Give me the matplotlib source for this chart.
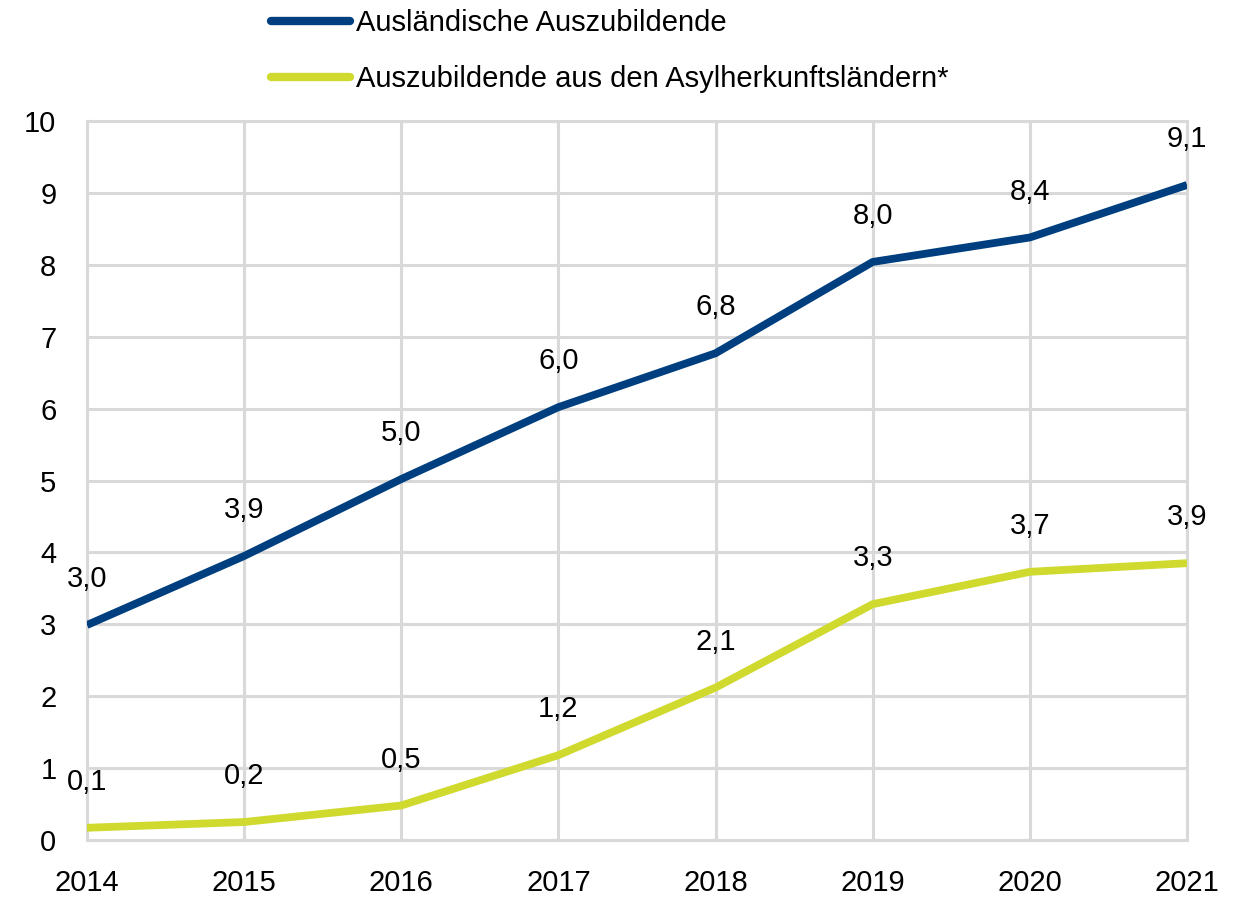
import matplotlib
matplotlib.use('Agg')
import matplotlib.pyplot as plt

# Data
years = [2014, 2015, 2016, 2017, 2018, 2019, 2020, 2021]
foreign = [2.99, 3.95, 5.02, 6.02, 6.77, 8.04, 8.38, 9.11]
foreign_labels = ['3,0', '3,9', '5,0', '6,0', '6,8', '8,0', '8,4', '9,1']
asylum = [0.17, 0.25, 0.48, 1.18, 2.12, 3.28, 3.73, 3.85]
asylum_labels = ['0,1', '0,2', '0,5', '1,2', '2,1', '3,3', '3,7', '3,9']
series_names = ['Ausländische Auszubildende',
                'Auszubildende aus den Asylherkunftsländern*']

blue = '#003f7f'
yellow = '#cfd92e'
grid_col = '#d9d9d9'

plt.rcParams['font.family'] = ['Liberation Sans', 'DejaVu Sans']
fs = 21

fig = plt.figure(figsize=(12.37, 8.97), dpi=100)
ax = fig.add_axes([87 / 1237, 1 - 840 / 897, 1100 / 1237, 719 / 897])

l1, = ax.plot(years, foreign, color=blue, lw=5.6, solid_capstyle='butt', zorder=3)
l2, = ax.plot(years, asylum, color=yellow, lw=5.6, solid_capstyle='butt', zorder=3)

for x, y, t in zip(years, foreign, foreign_labels):
    ax.annotate(t, (x, y), xytext=(0, 33), textcoords='offset points',
                ha='center', va='center', fontsize=fs)
for x, y, t in zip(years, asylum, asylum_labels):
    ax.annotate(t, (x, y), xytext=(0, 33), textcoords='offset points',
                ha='center', va='center', fontsize=fs)

ax.set_xlim(2014, 2021)
ax.set_ylim(0, 10)
ax.set_xticks(years)
ax.set_yticks(range(0, 11))
ax.grid(True, color=grid_col, lw=2.2, zorder=0)
for s in ax.spines.values():
    s.set_color(grid_col)
    s.set_linewidth(2.2)
ax.tick_params(length=0, labelsize=fs)
ax.tick_params(axis='y', pad=22)
ax.tick_params(axis='x', pad=21)

leg = fig.legend([l1, l2], series_names, loc='upper left',
                 bbox_to_anchor=(245 / 1237, 1.019), frameon=False,
                 fontsize=fs, handlelength=2.7, handletextpad=0.2,
                 labelspacing=0.97)
for h in leg.get_lines():
    h.set_linewidth(6)
    h.set_solid_capstyle('round')

fig.savefig('out.png', dpi=100)
